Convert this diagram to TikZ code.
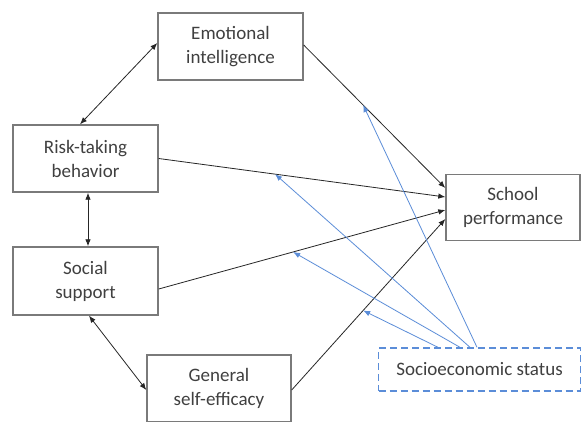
\documentclass[tikz,border=0pt]{standalone}
\usepackage{fontspec}
\setmainfont{Carlito}
\usetikzlibrary{arrows.meta}
\definecolor{boxgray}{HTML}{7A7A7A}
\definecolor{txtgray}{HTML}{404040}
\definecolor{modblue}{HTML}{5B8DD8}
\tikzset{
  var/.style={draw=boxgray, line width=1.4pt, fill=white, text=txtgray,
    minimum width=145pt, minimum height=67pt, align=center,
    font=\fontsize{19}{24}\selectfont, inner sep=0pt},
  modbox/.style={var, draw=modblue, dashed, dash pattern=on 7pt off 4pt,
    minimum width=202pt, minimum height=43pt},
  path/.style={draw=black!85, line width=0.8pt, -{Latex[length=7pt,width=5.5pt]}},
  corr/.style={draw=black!85, line width=0.8pt, {Latex[length=7pt,width=5.5pt]}-{Latex[length=7pt,width=5.5pt]}},
  moder/.style={draw=modblue, line width=0.8pt, -{Latex[length=7pt,width=5.5pt]}}
}
\begin{document}
\begin{tikzpicture}[x=1pt, y=-1pt]
  \useasboundingbox (0,0) rectangle (581,421);
  \fill[white] (0,0) rectangle (581,421);
  \clip (0,0) rectangle (581,421);

  % predictors
  \node[var] (ei) at (230.5,46.5) {Emotional\\intelligence};
  \node[var] (risk) at (85.5,158.5) {Risk-taking\\behavior};
  \node[var, minimum height=68pt] (social) at (85.5,281) {Social\\support};
  \node[var, minimum width=144pt] (gse) at (219,388.5) {General\\self-efficacy};
  % outcome and moderator
  \node[var, minimum width=134pt, minimum height=66pt] (sp) at (513,207.5) {School\\performance};
  \node[modbox] (ses) at (479.5,369.5) {Socioeconomic status};

  % correlations among predictors
  \draw[corr] ([yshift=3.5pt]ei.west) -- ([xshift=-5.5pt]risk.north);
  \draw[corr] ([xshift=2.5pt]risk.south) -- ([xshift=2.5pt]social.north);
  \draw[corr] ([xshift=3.5pt]social.south) -- ([yshift=-1.5pt]gse.west);

  % direct paths to school performance
  \draw[path] ([yshift=1.5pt]ei.east) -- ([yshift=19.5pt]sp.west)
    coordinate[pos=0.42] (m1);
  \draw[path] (risk.east) -- ([yshift=10.5pt]sp.west)
    coordinate[pos=0.406] (m2);
  \draw[path] ([yshift=-8pt]social.east) -- ([yshift=-2.5pt]sp.west)
    coordinate[pos=0.469] (m3);
  \draw[path] ([yshift=-1.5pt]gse.east) -- ([yshift=-11.5pt]sp.west)
    coordinate[pos=0.465] (m4);

  % moderating effects of socioeconomic status
  \draw[moder] ([xshift=-2.5pt]ses.north) -- (m1);
  \draw[moder] ([xshift=-9.5pt]ses.north) -- (m2);
  \draw[moder] ([xshift=-19.5pt]ses.north) -- (m3);
  \draw[moder] ([xshift=-41.5pt]ses.north) -- (m4);
\end{tikzpicture}
\end{document}
